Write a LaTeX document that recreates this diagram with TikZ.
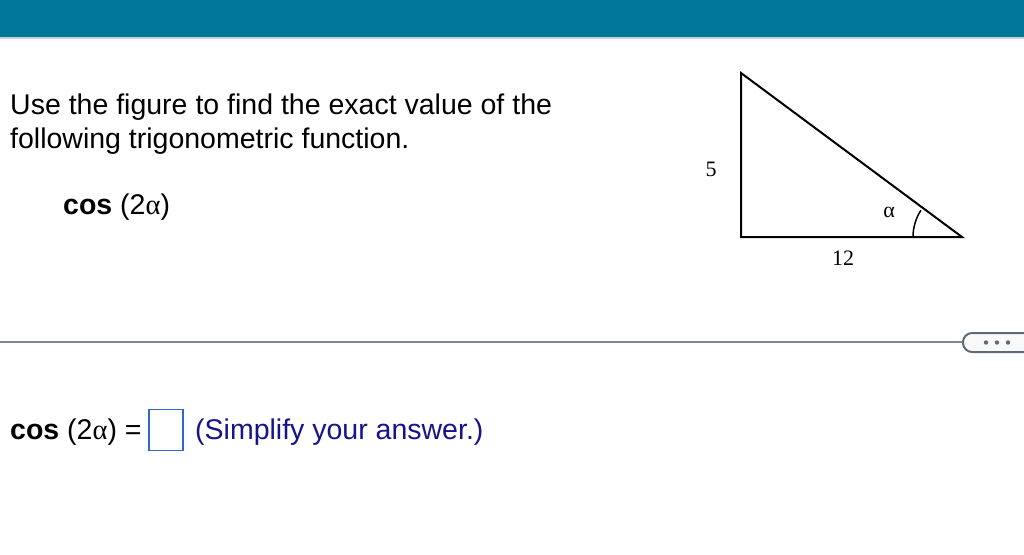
\documentclass[tikz,border=0pt]{standalone}
\usepackage{fontspec}
\setmainfont{Liberation Sans}
\newfontfamily\timesf{Liberation Serif}
\definecolor{header}{HTML}{007899}
\definecolor{headline}{HTML}{C8D0DC}
\definecolor{sepline}{HTML}{7A8595}
\definecolor{pillborder}{HTML}{5B6B7C}
\definecolor{boxblue}{HTML}{3366CC}
\definecolor{navy}{HTML}{161488}
\begin{document}
\begin{tikzpicture}[x=1pt,y=-1pt,
  body/.style={anchor=base west,inner sep=0pt,font=\fontsize{28.5}{28.5}\selectfont},
  fig/.style={inner sep=0pt,font=\timesf\fontsize{22}{22}\selectfont},
  tri/.style={line width=2pt,line join=miter}]
\useasboundingbox (0,0) rectangle (1024,554);
\fill[white] (0,0) rectangle (1024,554);
\fill[header] (0,0) rectangle (1024,37);
\fill[headline] (0,37) rectangle (1024,39);
% question text
\node[body] (q1) at (10,114) {Use the figure to find the exact value of the};
\node[body] (q2) at (10,148) {following trigonometric function.};
\node[body] (f1) at (63,214) {\textbf{cos} ({2}{\timesf α})};
% triangle
\coordinate (A) at (741,73);
\coordinate (B) at (741,237);
\coordinate (C) at (962,237);
\draw[tri] (A) -- (B) -- (C) -- cycle;
\draw[line width=1.5pt] (913,237) arc[start angle=180,end angle=213,radius=49];
\node[fig] (five) at (711,169) {5};
\node[fig] (twelve) at (843,258) {12};
\node[fig] (alpha) at (889,212) {α};
% separator
\draw[sepline,line width=1.3pt] (0,342) -- (963,342);
\draw[pillborder,fill=white!95!gray,line width=2pt,rounded corners=9pt] (1040,333) -- (963,333) -- (963,352) -- (1040,352);
\foreach \xx in {986,997,1008} \fill[pillborder] (\xx,342.5) circle (2.2);
% answer line
\node[body] (f2) at (10,439) {\textbf{cos} ({2}{\timesf α}) =};
\node[draw=boxblue,line width=1.5pt,minimum width=34pt,minimum height=41pt,inner sep=0pt] (ans) at (166,430) {};
\node[body,text=navy] (hint) at (195,439) {(Simplify your answer.)};
\end{tikzpicture}
\end{document}
